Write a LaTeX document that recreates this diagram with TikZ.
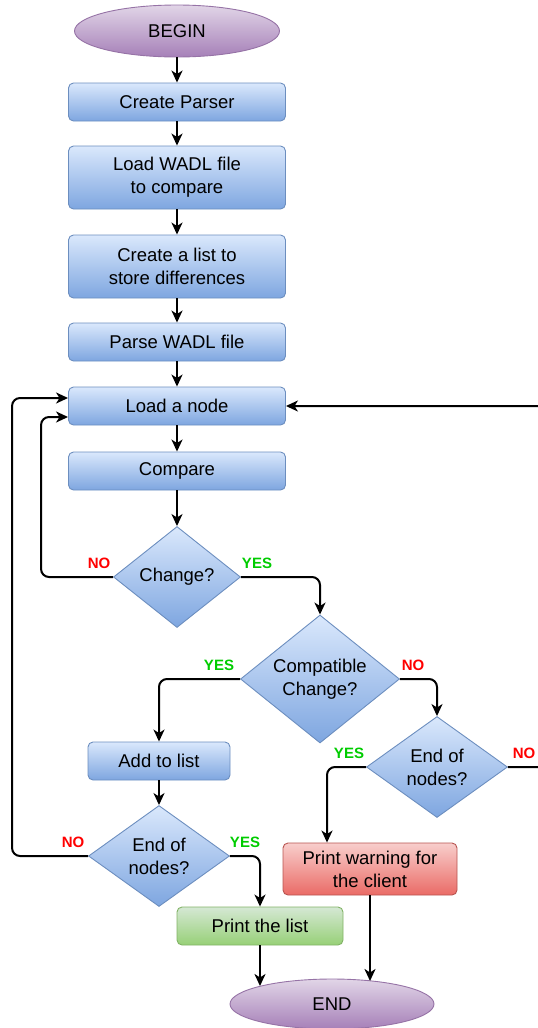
\documentclass[tikz,border=0pt]{standalone}
\usepackage{fontspec}
\setmainfont{Liberation Sans}
\usetikzlibrary{arrows.meta,shapes.geometric}

\definecolor{bluetop}{RGB}{218,232,252}
\definecolor{bluebot}{RGB}{126,166,224}
\definecolor{blueline}{RGB}{108,142,191}
\definecolor{purptop}{RGB}{225,213,231}
\definecolor{purpbot}{RGB}{166,128,184}
\definecolor{purpline}{RGB}{150,115,166}
\definecolor{redtop}{RGB}{248,206,204}
\definecolor{redbot}{RGB}{234,107,102}
\definecolor{redline}{RGB}{184,84,80}
\definecolor{greentop}{RGB}{213,232,212}
\definecolor{greenbot}{RGB}{151,208,119}
\definecolor{greenline}{RGB}{130,179,102}
\definecolor{yesgreen}{RGB}{0,204,0}
\definecolor{nored}{RGB}{255,0,0}

\begin{document}
\begin{tikzpicture}[x=1pt,y=-1pt,
  txt/.style={font=\fontsize{18.5}{23}\selectfont, text=black, align=center},
  box/.style={txt, rectangle, rounded corners=5pt, draw=blueline, line width=0.9pt,
    top color=bluetop, bottom color=bluebot, inner sep=0pt, minimum width=217pt},
  redbox/.style={box, draw=redline, top color=redtop, bottom color=redbot},
  greenbox/.style={box, draw=greenline, top color=greentop, bottom color=greenbot},
  terminal/.style={txt, ellipse, draw=purpline, line width=0.9pt,
    top color=purptop, bottom color=purpbot, inner sep=0pt},
  decision/.style={txt, diamond, aspect=1.3, draw=blueline, line width=0.9pt,
    top color=bluetop, bottom color=bluebot, inner sep=0pt},
  yes/.style={font=\fontsize{15}{18}\selectfont\bfseries, text=yesgreen},
  no/.style={font=\fontsize{15}{18}\selectfont\bfseries, text=nored},
  arr/.style={draw=black, line width=2pt, rounded corners=8pt,
    -{Stealth[length=12pt,width=11pt,inset=3.5pt]}}
]
\useasboundingbox (0,0) rectangle (538,1028);

% main column
\node[terminal, minimum width=205pt, minimum height=52pt] (begin) at (177,31) {BEGIN};
\node[box, minimum height=38pt] (cp) at (177,102) {Create Parser};
\node[box, minimum height=63pt] (lw) at (177,177.5) {Load WADL file\\to compare};
\node[box, minimum height=63pt] (cl) at (177,266.5) {Create a list to\\store differences};
\node[box, minimum height=38pt] (pw) at (177,342) {Parse WADL file};
\node[box, minimum height=38pt] (ld) at (177,406) {Load a node};
\node[box, minimum height=38pt] (cmpr) at (177,471) {Compare};

% decisions
\node[decision, minimum width=127pt, minimum height=101pt] (chg) at (177,577) {Change?};
\node[decision, minimum width=159pt, minimum height=128pt] (cmp) at (320,679) {Compatible\\Change?};
\node[decision, minimum width=141pt, minimum height=101pt] (end2) at (437,767) {End of\\nodes?};
\node[box, minimum width=142pt, minimum height=38pt] (add) at (159,761) {Add to list};
\node[decision, minimum width=141pt, minimum height=101pt] (end1) at (159,856) {End of\\nodes?};

% outputs
\node[redbox, minimum width=174pt, minimum height=52pt] (warn) at (370,869) {Print warning for\\the client};
\node[greenbox, minimum width=166pt, minimum height=38pt] (list) at (260,926) {Print the list};
\node[terminal, minimum width=204pt, minimum height=50pt] (end) at (332,1004) {END};

% branch labels
\node[no] (n1) at (99,563) {NO};
\node[yes] (y1) at (257,563) {YES};
\node[yes] (y2) at (219,665) {YES};
\node[no] (n2) at (413,665) {NO};
\node[yes] (y3) at (349,753) {YES};
\node[no] (n3) at (524,753) {NO};
\node[no] (n4) at (73,842) {NO};
\node[yes] (y4) at (245,842) {YES};

% straight flow
\draw[arr] (begin.south) -- (cp.north);
\draw[arr] (cp.south) -- (lw.north);
\draw[arr] (lw.south) -- (cl.north);
\draw[arr] (cl.south) -- (pw.north);
\draw[arr] (pw.south) -- (ld.north);
\draw[arr] (ld.south) -- (cmpr.north);
\draw[arr] (cmpr.south) -- (chg.north);

% Change?
\draw[arr] (chg.west) -- ++(-72,0) |- ([yshift=-11pt]ld.west);
\draw[arr] (chg.east) -| (cmp.north);

% Compatible Change?
\draw[arr] (cmp.west) -| (add.north);
\draw[arr] (cmp.east) -| (end2.north);

% End of nodes (right)
\draw[arr] (end2.west) -| ([xshift=-43pt]warn.north);
\draw[arr] (end2.east) -- ++(40,0) |- (ld.east);

% End of nodes (left)
\draw[arr] (add.south) -- (end1.north);
\draw[arr] (end1.west) -- ++(-76,0) |- ([yshift=8pt]ld.west);
\draw[arr] (end1.east) -| (list.north);

% into END
\draw[arr, shorten >=18pt] (list.south) -- (list.south |- end.center);
\draw[arr, shorten >=23pt] (warn.south) -- (warn.south |- end.center);
\end{tikzpicture}
\end{document}
